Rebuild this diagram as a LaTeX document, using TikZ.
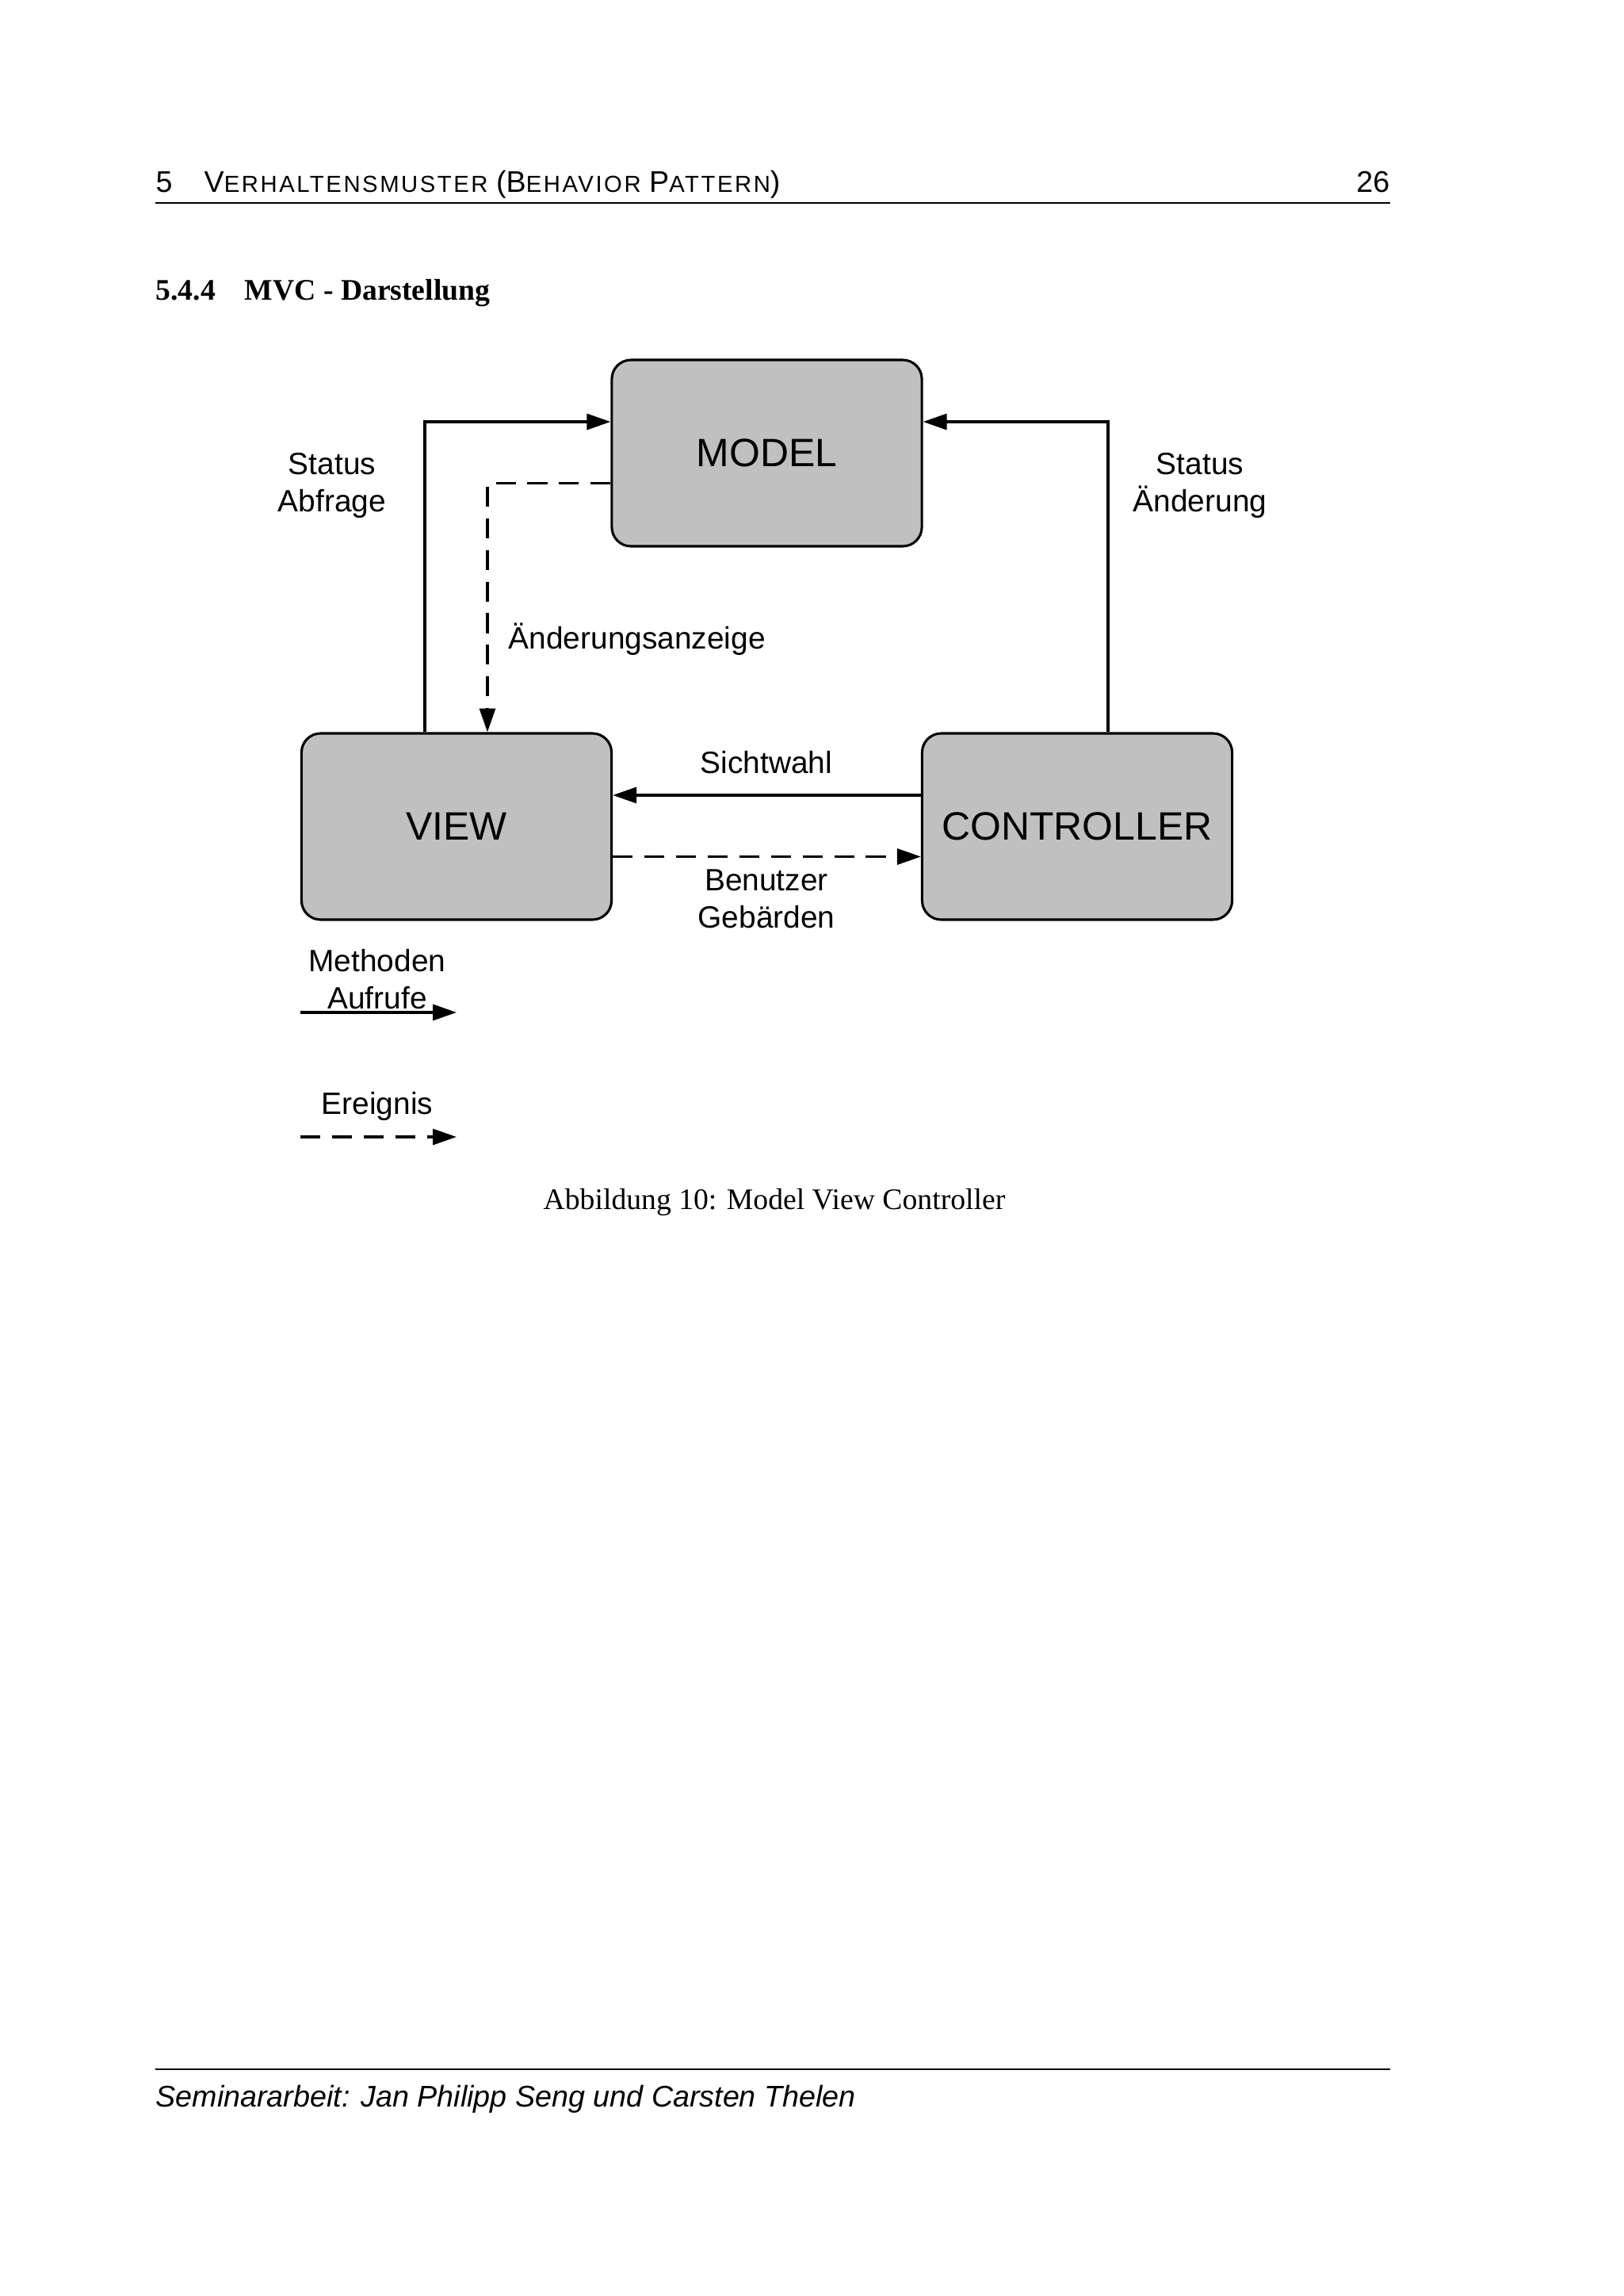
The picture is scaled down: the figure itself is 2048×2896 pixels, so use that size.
\documentclass[tikz,border=0pt]{standalone}
\usepackage{fontspec}
\setmainfont{Liberation Serif}
\setsansfont{Liberation Sans}
\newfontfamily\hdrsc[LetterSpace=8.8]{Liberation Sans}
\usetikzlibrary{arrows.meta,calc}
\definecolor{boxgray}{HTML}{C0C0C0}
\newcommand{\mysc}[1]{{\hdrsc\fontsize{8.5}{10}\selectfont #1}}
\begin{document}
\begin{tikzpicture}[x=0.29067pt,y=-0.29067pt,
  box/.style={draw=black, line width=0.9pt, fill=boxgray, rounded corners=7pt,
    minimum width=113.7pt, minimum height=68.3pt, inner sep=0pt,
    font=\sffamily\fontsize{14.5}{17}\selectfont},
  conn/.style={line width=0.95pt, -{Triangle[length=8.7pt,width=5.8pt]}},
  dconn/.style={conn, dash pattern=on 7.3pt off 4.3pt},
  lbl/.style={font=\sffamily\fontsize{11.3}{13.66}\selectfont, align=center, inner sep=0pt, anchor=base},
  body/.style={inner sep=0pt, font=\fontsize{10.95}{13.6}\selectfont}
]
\useasboundingbox (0,0) rectangle (2048,2896);

% header
\node[body, font=\sffamily\fontsize{10.95}{13.6}\selectfont, anchor=base west] (hnum) at (196,242) {5};
\node[body, font=\sffamily\fontsize{10.95}{13.6}\selectfont, anchor=base west] (htitle) at (257,242)
  {V\mysc{ERHALTENSMUSTER} (B\mysc{EHAVIOR} P\mysc{ATTERN})};
\node[body, font=\sffamily\fontsize{10.95}{13.6}\selectfont, anchor=base east] (hpage) at (1754,242) {26};
\coordinate (hr1) at (196,256); \coordinate (hr2) at (1754,256);
\draw[line width=0.6pt] (hr1) -- (hr2);

% section heading
\node[body, font=\bfseries\fontsize{10.95}{13.6}\selectfont, anchor=base west] (secnum) at (196,378) {5.4.4};
\node[body, font=\bfseries\fontsize{10.95}{13.6}\selectfont, anchor=base west] (sectitle) at (308,378) {MVC - Darstellung};

% boxes
\node[box] (model) at (967.5,571.5) {MODEL};
\node[box] (view) at (576,1042.5) {VIEW};
\node[box] (controller) at (1359,1042.5) {CONTROLLER};

% connectors
\draw[conn] ($(view.north)+(-40,0)$) |- ($(model.west)+(0,-39.5)$);
\draw[dconn] ($(model.west)+(0,38)$) -| ($(view.north)+(39,0)$);
\draw[conn] ($(controller.north)+(39,0)$) |- ($(model.east)+(0,-39.5)$);
\draw[conn] ($(controller.west)+(0,-39.5)$) -- ($(view.east)+(0,-39.5)$);
\draw[dconn] ($(view.east)+(0,38)$) -- ($(controller.west)+(0,38)$);

% labels (base = baseline of the last line)
\node[lbl] (labf) at (419,645) {Status\\Abfrage};
\node[lbl] (laend) at (1514,645) {Status\\Änderung};
\node[lbl, anchor=base west] (lanz) at (641,818) {Änderungsanzeige};
\node[lbl] (lsicht) at (967,975) {Sichtwahl};
\node[lbl] (lbenu) at (967,1170) {Benutzer\\Gebärden};

% legend
\node[lbl] (lmeth) at (476,1272) {Methoden\\Aufrufe};
\coordinate (la) at (379,1277); \coordinate (lb) at (576,1277);
\draw[conn] (la) -- (lb);
\node[lbl] (lereig) at (476,1405) {Ereignis};
\coordinate (lc) at (379,1434); \coordinate (ld) at (576,1434);
\draw[dconn] (lc) -- (ld);

% caption
\node[body, anchor=base] (caption) at (977,1525) {Abbildung 10: Model View Controller};

% footer
\coordinate (fr1) at (196,2610); \coordinate (fr2) at (1754,2610);
\draw[line width=0.5pt] (fr1) -- (fr2);
\node[body, font=\sffamily\itshape\fontsize{10.95}{13.6}\selectfont, anchor=base west] (footer) at (196,2657)
  {Seminararbeit: Jan Philipp Seng und Carsten Thelen};
\end{tikzpicture}
\end{document}
